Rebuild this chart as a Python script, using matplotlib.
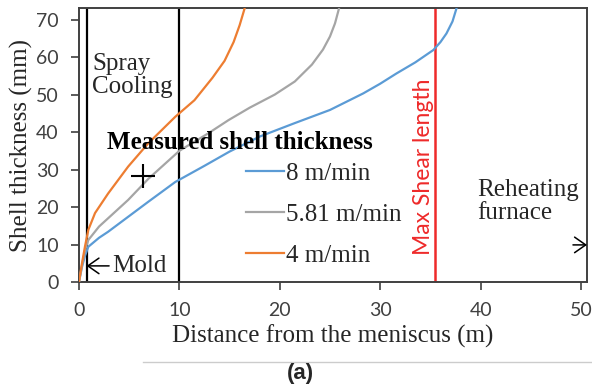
import matplotlib
matplotlib.use("Agg")
import matplotlib.pyplot as plt
from matplotlib.lines import Line2D

# Data
x_8 = [0, 0.3, 0.6, 0.93, 2.0, 2.9, 4.9, 6.9, 9.6, 12.5, 15.0, 18.0, 21.5, 25.0, 28.3, 30.0, 31.6, 33.5, 35.3, 36.0, 36.6, 37.2, 37.6]
y_8 = [0, 4.0, 7.0, 9.4, 11.8, 13.4, 17.4, 21.4, 26.7, 31.0, 34.8, 38.8, 42.4, 45.9, 50.3, 52.9, 55.6, 58.6, 61.9, 64.0, 66.3, 69.5, 73.0]

x_581 = [0, 0.3, 0.6, 0.93, 2.0, 2.9, 4.9, 6.9, 10.0, 12.9, 14.9, 17.0, 19.5, 21.5, 23.2, 24.3, 25.0, 25.5, 25.9]
y_581 = [0, 4.5, 8.5, 11.2, 14.8, 17.0, 21.9, 27.5, 35.0, 39.7, 43.2, 46.5, 50.0, 53.5, 58.0, 62.0, 65.5, 69.0, 73.0]

x_4 = [0, 0.3, 0.6, 0.93, 1.6, 2.9, 4.9, 6.9, 9.6, 11.5, 13.3, 14.5, 15.4, 16.0, 16.5]
y_4 = [0, 5.0, 9.5, 13.9, 18.4, 23.6, 30.8, 37.0, 44.1, 48.5, 54.5, 59.0, 64.0, 68.5, 73.0]

series_labels = ["8 m/min", "5.81 m/min", "4 m/min"]
series_colors = ["#5B9BD5", "#A5A5A5", "#ED7D31"]

measured_x = [6.4]
measured_y = [28.4]

mold_x = 0.8
spray_x = 10.0
shear_x = 35.5

x_ticks = [0, 10, 20, 30, 40, 50]
y_ticks = [0, 10, 20, 30, 40, 50, 60, 70]

fig = plt.figure(figsize=(5.92, 3.86), dpi=100)
ax = fig.add_axes([0.1334, 0.2694, 0.8582, 0.7099])

serif = "Liberation Serif"
sans = "Lato"
FS = 18

for xs, ys, c in zip([x_8, x_581, x_4], [y_8, y_581, y_4], series_colors):
    ax.plot(xs, ys, color=c, lw=1.6, zorder=3)

ax.axvline(mold_x, color="black", lw=1.6, zorder=2)
ax.axvline(spray_x, color="black", lw=1.6, zorder=2)
ax.axvline(shear_x, color="#EE2A2A", lw=1.8, zorder=2)

ax.plot(measured_x, measured_y, marker="+", color="black", ms=17, mew=1.5, ls="none", zorder=4)

ax.set_xlim(0, 50.6)
ax.set_ylim(0, 73.1)
ax.set_xticks(x_ticks)
ax.set_yticks(y_ticks)
for lab in ax.get_xticklabels() + ax.get_yticklabels():
    lab.set_fontfamily(sans)
    lab.set_fontsize(14)
    lab.set_color("#404040")
ax.tick_params(direction="out", length=5.5, width=1.2, color="#404040", pad=9)
for sp in ax.spines.values():
    sp.set_color("#404040")
    sp.set_linewidth(1.4)

ax.set_xlabel("Distance from the meniscus (m)", fontfamily=serif, fontsize=FS, color="#262626", labelpad=4)
ax.set_ylabel("Shell thickness (mm)", fontfamily=serif, fontsize=FS, color="#262626", labelpad=2)

ax.text(1.3, 55, "Spray\nCooling", fontfamily=serif, fontsize=FS, color="#262626", va="center", ha="left", linespacing=1.05)
ax.text(2.8, 37.3, "Measured shell thickness", fontfamily=serif, fontsize=FS, fontweight="bold", color="black", va="center", ha="left")
ax.text(3.3, 4.3, "Mold", fontfamily=serif, fontsize=FS, color="#262626", va="center", ha="left")
ax.annotate("", xy=(0.75, 4.3), xytext=(3.0, 4.3),
            arrowprops=dict(arrowstyle="->,head_length=0.5,head_width=0.35", color="black", lw=1.1, mutation_scale=16,
                            shrinkA=0, shrinkB=0))
ax.annotate("", xy=(50.6, 9.9), xytext=(49.2, 9.9),
            arrowprops=dict(arrowstyle="->,head_length=0.5,head_width=0.35", color="black", lw=1.1, mutation_scale=16,
                            shrinkA=0, shrinkB=0), annotation_clip=False)
ax.text(39.7, 21.5, "Reheating\nfurnace", fontfamily=serif, fontsize=FS, color="#262626", va="center", ha="left", linespacing=1.05)
ax.text(34.3, 7.2, "Max Shear length", fontfamily=sans, fontsize=16.5, color="#EE2A2A", rotation=90, va="bottom", ha="center")

handles = [Line2D([0], [0], color=c, lw=1.6) for c in series_colors]
leg = ax.legend(handles, series_labels, loc="upper left", bbox_to_anchor=(0.329, 0.437), frameon=False,
                prop={"family": serif, "size": FS}, handlelength=1.5, handletextpad=0.1, labelspacing=0.74,
                borderaxespad=0, borderpad=0)
for t in leg.get_texts():
    t.set_color("#262626")

fig.add_artist(Line2D([143/592, 1.0], [1 - 362/386, 1 - 362/386], color="#CCCCCC", lw=1.0))
fig.text(300/592, 1 - 373/386, "(a)", fontfamily="Liberation Sans", fontsize=16, fontweight="bold", color="#262626", ha="center", va="center")

fig.savefig("out.png", dpi=100)
